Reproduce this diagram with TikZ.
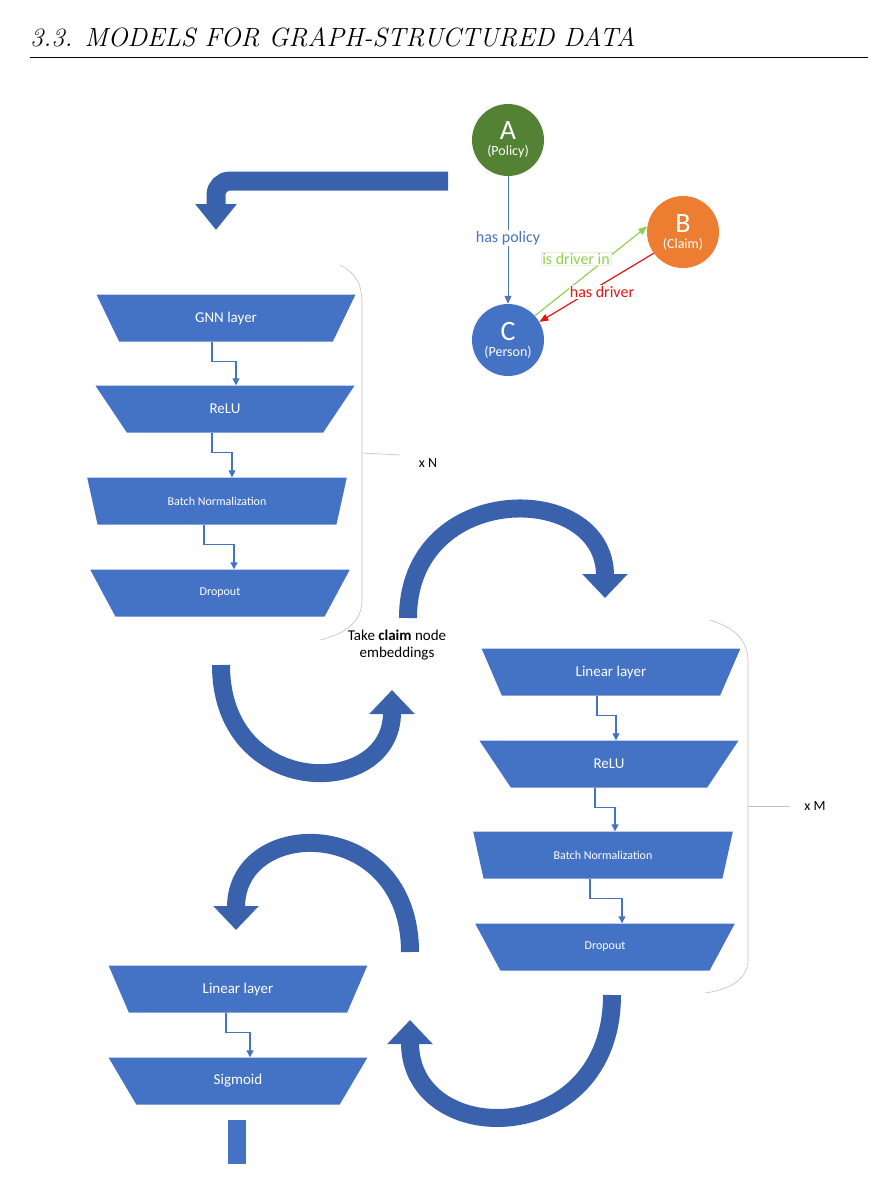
\documentclass[tikz,border=0pt]{standalone}
\usepackage{fontspec}
\newfontfamily\calibri{Carlito}
\usetikzlibrary{shapes.geometric}
\usetikzlibrary{positioning}
\usetikzlibrary{arrows.meta}
\definecolor{layerblue}{RGB}{68,114,196}
\definecolor{bigblue}{RGB}{58,98,172}
\definecolor{policygreen}{RGB}{84,130,53}
\definecolor{claimorange}{RGB}{237,125,49}
\definecolor{linkgreen}{RGB}{146,208,80}
\definecolor{linkred}{RGB}{230,20,20}
\tikzset{
    layer/.style = {trapezium, shape border rotate=180, trapezium angle=63, trapezium stretches,
        minimum width=260pt, minimum height=47pt, inner sep=0pt, fill=layerblue, draw=none,
        text=white, font=\calibri\fontsize{15}{17}\selectfont},
    layersm/.style = {layer, font=\calibri\fontsize{12}{14}\selectfont},
    entity/.style = {circle, minimum size=72pt, inner sep=0pt, align=center, text=white,
        font=\calibri\fontsize{14}{16}\selectfont},
    conn/.style = {-{Triangle[width=7pt,length=7pt]}, layerblue, line width=1.2pt},
    bigarrow/.style = {-{Triangle[width=44pt,length=24pt]}, bigblue, line width=18pt},
    brace/.style = {gray!50, line width=0.6pt},
    edgelab/.style = {font=\calibri\fontsize{16}{18}\selectfont, inner sep=1pt}
}
\begin{document}
\begin{tikzpicture}[x=1pt, y=-1pt]
  \useasboundingbox (0,0) rectangle (896,1192);
  % header
  \node[anchor=base west, inner sep=0pt, font=\itshape\fontsize{26.4}{28}\selectfont] (head) at (30,46) {3.3. MODELS FOR GRAPH-STRUCTURED DATA};
  \draw[line width=0.6pt] (30,57) -- (868,57);

  % graph
  \node[entity, fill=policygreen] (a) at (508,140) {{\fontsize{28}{30}\selectfont A}\\(Policy)};
  \node[entity, fill=claimorange] (b) at (683,232) {{\fontsize{28}{30}\selectfont B}\\(Claim)};
  \node[entity, fill=layerblue] (c) at (508,340) {{\fontsize{28}{30}\selectfont C}\\(Person)};
  \draw[-{Triangle[width=7pt,length=8pt]}, layerblue!80!gray, line width=1pt] (a) -- (c);
  \draw[-{Triangle[width=7pt,length=9pt]}, linkgreen, line width=1.2pt] (c.42) -- (b.171);
  \draw[-{Triangle[width=7pt,length=9pt]}, linkred, line width=1.2pt] (b.216) -- (c.30);
  \node[edgelab, fill=white, text=layerblue] (haspolicy) at (508,238) {has policy};
  \node[edgelab, fill=white, draw=linkgreen!25, text=linkgreen] (isdriver) at (576,259) {is driver in};
  \node[edgelab, fill=white, text=linkred] (hasdriver) at (602,292) {has driver};

  % L-shaped entry arrow
  \draw[-{Triangle[width=40pt,length=26pt]}, bigblue, line width=19pt, rounded corners=14pt]
    (448,181) -- (216,181) -- (216,230);

  % left stack
  \node[layer] (gnn) at (226,318) {GNN layer};
  \node[layer] (relua) at (225,409) {ReLU};
  \node[layersm] (bna) at (217,501) {Batch Normalization};
  \node[layersm] (dropa) at (220,593) {Dropout};
  \draw[conn] ([xshift=-14pt]gnn.south) -- ++(0,20) -| ([xshift=11pt]relua.north);
  \draw[conn] ([xshift=-13pt]relua.south) -- ++(0,20) -| ([xshift=15pt]bna.north);
  \draw[conn] ([xshift=-13pt]bna.south) -- ++(0,20) -| ([xshift=14pt]dropa.north);
  \draw[brace] (340,265) .. controls (358,275) and (362,285) .. (362,305) -- (362,600)
    .. controls (362,625) and (340,635) .. (320,640);
  \draw[brace] (362,453) -- (400,455);
  \node[font=\calibri\fontsize{14}{16}\selectfont] (xn) at (428,463) {x N};

  % middle text
  \node[align=center, font=\calibri\fontsize{15}{17}\selectfont] (take) at (397,645) {Take \textbf{claim} node\\embeddings};

  % right stack
  \node[layer] (linb) at (611,672) {Linear layer};
  \node[layer] (relub) at (609,764) {ReLU};
  \node[layersm] (bnb) at (603,855) {Batch Normalization};
  \node[layersm] (dropb) at (605,947) {Dropout};
  \draw[conn] ([xshift=-14pt]linb.south) -- ++(0,20) -| ([xshift=7pt]relub.north);
  \draw[conn] ([xshift=-14pt]relub.south) -- ++(0,20) -| ([xshift=12pt]bnb.north);
  \draw[conn] ([xshift=-13pt]bnb.south) -- ++(0,20) -| ([xshift=17pt]dropb.north);
  \draw[brace] (710,620) .. controls (735,628) and (748,640) .. (748,662) -- (748,960)
    .. controls (748,980) and (728,990) .. (705,993);
  \draw[brace] (748,806) -- (790,806);
  \node[font=\calibri\fontsize{14}{16}\selectfont] (xm) at (815,806) {x M};

  % bottom stack
  \node[layer] (linc) at (238,989) {Linear layer};
  \node[layer] (sigm) at (238,1081) {Sigmoid};
  \draw[conn] ([xshift=-12pt]linc.south) -- ++(0,20) -| ([xshift=12pt]sigm.north);
  \fill[layerblue] (228,1120) rectangle (246,1164);

  % big curved arrows
  \draw[bigarrow] (408,618) .. controls (408,480) and (605,480) .. (605,598);
  \draw[bigarrow] (221,665) .. controls (221,800) and (392,800) .. (392,690);
  \draw[bigarrow] (410,952) .. controls (410,815) and (236,815) .. (236,930);
  \draw[bigarrow] (612,995) .. controls (612,1150) and (410,1150) .. (410,1020);
\end{tikzpicture}
\end{document}
